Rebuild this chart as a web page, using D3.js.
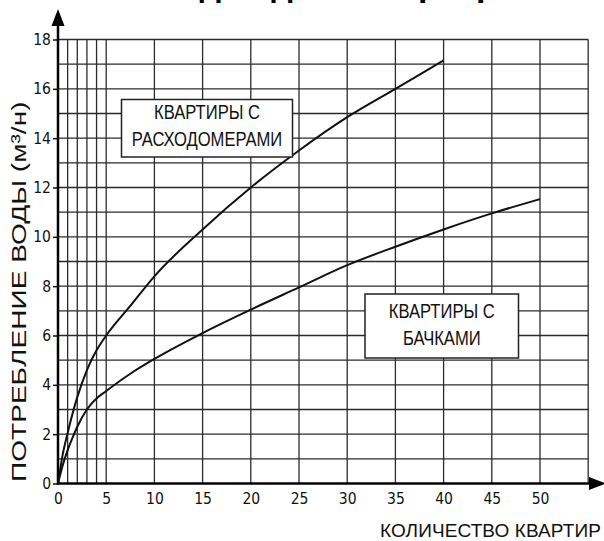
<!DOCTYPE html>
<html>
<head>
<meta charset="utf-8">
<script src="https://cdn.jsdelivr.net/npm/d3@7"></script>
<style>
  html, body { margin: 0; padding: 0; background: #fff; }
  svg { display: block; }
  .narrow { font-family: "Liberation Sans Narrow", "Arial Narrow", "DejaVu Sans Condensed", sans-serif; }
</style>
</head>
<body>
<div id="chart"></div>
<script>
// curve with water meters (КВАРТИРЫ С РАСХОДОМЕРАМИ)
const meterFlats = [0, 0.5, 1, 2, 3, 4, 5, 7.5, 10, 15, 20, 25, 30, 35, 40];
const meterFlow  = [0, 1.2, 2.05, 3.5, 4.6, 5.4, 6.0, 7.2, 8.4, 10.3, 12.0, 13.5, 14.85, 16.0, 17.15];

// curve with cisterns (КВАРТИРЫ С БАЧКАМИ)
const tankFlats = [0, 0.5, 1, 1.5, 2, 3, 3.5, 4, 5, 7.5, 10, 15, 20, 25, 30, 35, 40, 45, 50];
const tankFlow  = [0, 0.75, 1.35, 1.85, 2.3, 3.0, 3.25, 3.45, 3.75, 4.45, 5.05, 6.1, 7.05, 7.95, 8.85, 9.6, 10.3, 10.95, 11.53];

const xTickLabels = [0, 5, 10, 15, 20, 25, 30, 35, 40, 45, 50];
const yTickLabels = [0, 2, 4, 6, 8, 10, 12, 14, 16, 18];
const xGridValues = [1, 2, 3, 4, 5, 10, 15, 20, 25, 30, 35, 40, 45, 50, 55];
const yGridValues = [1, 2, 3, 4, 5, 6, 7, 8, 9, 10, 11, 12, 13, 14, 15, 16, 17, 18];

const titleText = "Расход воды в квартирах";
const yLabel = "ПОТРЕБЛЕНИЕ ВОДЫ (м³/н)";
const xLabel = "КОЛИЧЕСТВО КВАРТИР";
const meterNote = ["КВАРТИРЫ С", "РАСХОДОМЕРАМИ"];
const tankNote = ["КВАРТИРЫ С", "БАЧКАМИ"];

const width = 604, height = 541;
const sans = "'Liberation Sans', Arial, sans-serif";

const x = d3.scaleLinear().domain([0, 50]).range([58, 540]);
const y = d3.scaleLinear().domain([0, 18]).range([483.5, 39.5]);

const svg = d3.select("#chart").append("svg")
  .attr("width", width)
  .attr("height", height);

// title, cut off by the top edge like in the original
svg.append("text")
  .attr("x", 318)
  .attr("y", -4)
  .attr("text-anchor", "middle")
  .style("font-family", sans)
  .style("font-weight", "bold")
  .style("font-size", "34px")
  .text(titleText);

// grid
const grid = svg.append("g")
  .attr("stroke", "#2b2b2b")
  .attr("stroke-width", 1.3);

grid.selectAll(".vgrid")
  .data(xGridValues)
  .join("line")
  .attr("x1", d => x(d)).attr("x2", d => x(d))
  .attr("y1", y(0)).attr("y2", y(18));

grid.selectAll(".hgrid")
  .data(yGridValues)
  .join("line")
  .attr("x1", x(0)).attr("x2", x(55))
  .attr("y1", d => y(d)).attr("y2", d => y(d));

// y axis
const yAxis = svg.append("g")
  .attr("class", "narrow")
  .attr("transform", `translate(${x(0)},0)`)
  .call(d3.axisLeft(y).tickValues(yTickLabels).tickSize(5).tickPadding(2).tickSizeOuter(0));
yAxis.select(".domain").remove();
yAxis.selectAll("line").attr("stroke", "#111").attr("stroke-width", 1.5);
yAxis.selectAll("text").style("font-size", "15.5px").attr("fill", "#111");

// x axis labels
const xAxis = svg.append("g")
  .attr("class", "narrow")
  .attr("transform", `translate(0,${y(0)})`)
  .call(d3.axisBottom(x).tickValues(xTickLabels).tickSize(0).tickPadding(9));
xAxis.select(".domain").remove();
xAxis.selectAll("text").style("font-size", "15.5px").attr("fill", "#111");

// axis lines with arrows
svg.append("line")
  .attr("x1", x(0)).attr("x2", x(0))
  .attr("y1", y(0) + 1).attr("y2", 22)
  .attr("stroke", "#000").attr("stroke-width", 2.5);
svg.append("path")
  .attr("d", `M${x(0)},9 L${x(0) - 6.5},26 L${x(0) + 6.5},26 Z`)
  .attr("fill", "#000");

svg.append("line")
  .attr("x1", x(0) - 1).attr("x2", 592)
  .attr("y1", y(0)).attr("y2", y(0))
  .attr("stroke", "#000").attr("stroke-width", 2.5);
svg.append("path")
  .attr("d", `M606,${y(0)} L589,${y(0) - 6.5} L589,${y(0) + 6.5} Z`)
  .attr("fill", "#000");

// curves
const line = d3.line()
  .x(d => x(d[0]))
  .y(d => y(d[1]))
  .curve(d3.curveMonotoneX);

svg.append("path")
  .datum(meterFlats.map((v, i) => [v, meterFlow[i]]))
  .attr("d", line)
  .attr("fill", "none")
  .attr("stroke", "#111")
  .attr("stroke-width", 2);

svg.append("path")
  .datum(tankFlats.map((v, i) => [v, tankFlow[i]]))
  .attr("d", line)
  .attr("fill", "none")
  .attr("stroke", "#111")
  .attr("stroke-width", 2);

// note boxes (the source lettering is tall and narrow, so squeeze it sideways)
function noteBox(x0, y0, w, h, lines, base, step) {
  const g = svg.append("g");
  g.append("rect")
    .attr("x", x0).attr("y", y0)
    .attr("width", w).attr("height", h)
    .attr("fill", "#fff")
    .attr("stroke", "#222")
    .attr("stroke-width", 1.5);
  g.selectAll("text")
    .data(lines)
    .join("text")
    .attr("transform", (d, i) => `translate(${x0 + w / 2},${base + i * step}) scale(0.79,1)`)
    .attr("text-anchor", "middle")
    .style("font-family", sans)
    .style("font-size", "21px")
    .attr("fill", "#111")
    .text(d => d);
}
noteBox(121.5, 99.5, 171, 57.5, meterNote, 119, 27);
noteBox(365, 294, 153.5, 64, tankNote, 317.5, 27.5);

// axis titles
svg.append("text")
  .attr("transform", "translate(25.5,482) rotate(-90) scale(1.37,1)")
  .style("font-family", sans)
  .style("font-size", "20.5px")
  .attr("fill", "#111")
  .text(yLabel);

svg.append("text")
  .attr("x", 601)
  .attr("y", 537)
  .attr("text-anchor", "end")
  .style("font-family", sans)
  .style("font-size", "19px")
  .style("letter-spacing", "0.1px")
  .attr("fill", "#111")
  .text(xLabel);
</script>
</body>
</html>
